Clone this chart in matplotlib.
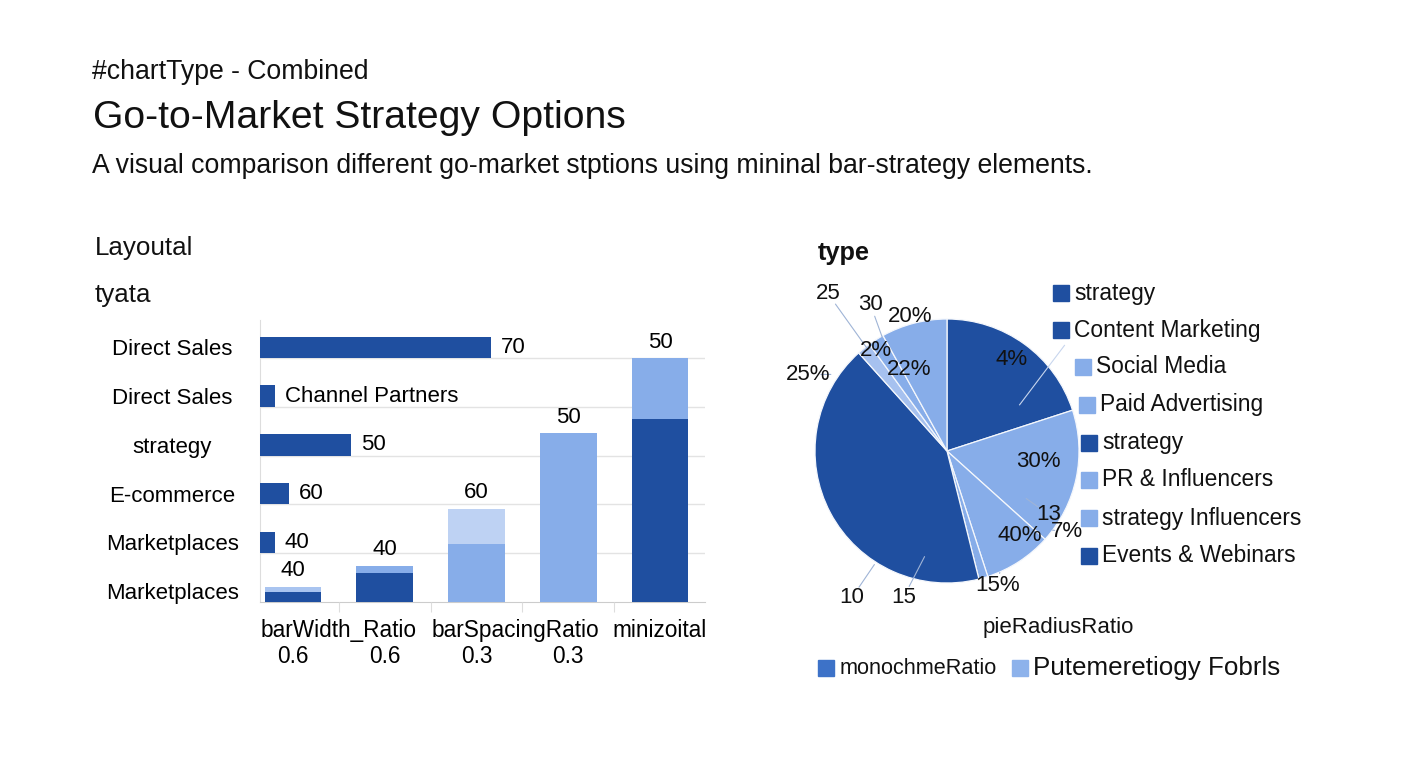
import matplotlib
matplotlib.use("Agg")
import matplotlib.pyplot as plt
from matplotlib.patches import Rectangle

plt.rcParams['font.family'] = ['Liberation Sans', 'DejaVu Sans']

W, H = 1408, 768

# --- data -------------------------------------------------------------
hbar_labels = ["Direct Sales", "Direct Sales", "strategy", "E-commerce", "Marketplaces", "Marketplaces"]
hbar_values = [70, 4.5, 27.6, 8.8, 4.5, 0]
hbar_texts = ["70", "Channel Partners", "50", "60", "40", ""]

vbar_bottom = [3.5, 10.3, 20.6, 59.9, 64.9]
vbar_top = [1.8, 2.5, 12.4, 0, 21.6]
vbar_texts = ["40", "40", "60", "50", "50"]
vbar_sub = ["0.6", "0.6", "0.3", "0.3", ""]
vbar_groups = ["barWidth_Ratio", "barSpacingRatio", "minizoital"]

pie_values = [72, 60, 30, 4, 152, 6, 7, 29]
pie_texts = ["4%", "30%", "40%", "13", "7%", "15%", "10", "15", "25%", "25", "30", "20%", "2%", "22%"]

legend_labels = ["strategy", "Content Marketing", "Social Media", "Paid Advertising",
                 "strategy", "PR & Influencers", "strategy Influencers", "Events & Webinars"]
legend_kinds = ["dark", "dark", "light", "light", "dark", "light", "light", "dark"]

bottom_legend = ["monochmeRatio", "Putemeretiogy Fobrls"]

# --- colours ----------------------------------------------------------
DARK = "#1f4fa0"
LIGHT = "#87ade9"
PALE = "#bed2f3"
MID = "#3d72c8"
pal = {"dark": DARK, "light": LIGHT}


def fx(x):
    return x / W


def fy(y):
    return 1 - y / H


fig = plt.figure(figsize=(W / 100, H / 100), dpi=100)
fig.patch.set_facecolor("white")

# headings
fig.text(fx(92), fy(72), "#chartType - Combined", fontsize=19.2, va="center", color="#111111")
fig.text(fx(93), fy(118), "Go-to-Market Strategy Options", fontsize=28.2, va="center", color="#111111")
fig.text(fx(92), fy(166), "A visual comparison different go-market stptions using mininal bar-strategy elements.",
         fontsize=19.2, va="center", color="#111111")
fig.text(fx(95), fy(248), "Layoutal", fontsize=18.7, va="center", color="#111111")
fig.text(fx(95), fy(295), "tyata", fontsize=18.7, va="center", color="#111111")
fig.text(fx(818), fy(253), "type", fontsize=18.3, va="center", weight="bold", color="#111111")

# --- left: horizontal bars (under) -----------------------------------
rect = [fx(260), fy(602), (705 - 260) / W, (602 - 320) / H]
ax_h = fig.add_axes(rect)
rows = list(range(len(hbar_labels) - 1, -1, -1))
ax_h.barh(rows, hbar_values, height=0.44, align="edge", color=DARK, zorder=3)
ax_h.set_xlim(0, 134.8)
ax_h.set_ylim(0, 5.78)
ax_h.set_yticks([r + 0.22 for r in rows], hbar_labels, fontsize=16)
for lab in ax_h.get_yticklabels():
    lab.set_ha("center")
ax_h.tick_params(axis="y", length=0, pad=63)
ax_h.set_xticks([])
for r in range(1, 6):
    ax_h.axhline(r, color="#e3e3e3", lw=1, zorder=1)
for s in ["top", "right"]:
    ax_h.spines[s].set_visible(False)
ax_h.spines["left"].set_color("#dddddd")
ax_h.spines["bottom"].set_color("#cccccc")
for r, v, t in zip(rows, hbar_values, hbar_texts):
    if t:
        ax_h.annotate(t, (v, r + 0.22), xytext=(7, 0), textcoords="offset points",
                      va="center", ha="left", fontsize=16)

# --- left: vertical stacked bars (over) ------------------------------
ax_v = fig.add_axes(rect)
ax_v.patch.set_alpha(0)
xs = list(range(len(vbar_bottom)))
bottom_cols = [DARK, DARK, LIGHT, LIGHT, DARK]
top_cols = ["#a9c4f0", LIGHT, PALE, LIGHT, LIGHT]
ax_v.bar(xs, vbar_bottom, width=0.62, color=bottom_cols, zorder=3)
ax_v.bar(xs, vbar_top, width=0.62, bottom=vbar_bottom, color=top_cols, zorder=3)
ax_v.set_xlim(-0.36, 4.49)
ax_v.set_ylim(0, 100)
ax_v.set_yticks([])
ax_v.set_xticks([0.5, 1.5, 2.5, 3.5], [])
ax_v.tick_params(axis="x", length=7, color="#dddddd")
for s in ax_v.spines.values():
    s.set_visible(False)
for x, b, t, txt in zip(xs, vbar_bottom, vbar_top, vbar_texts):
    ax_v.annotate(txt, (x, b + t), xytext=(0, 4), textcoords="offset points",
                  ha="center", va="bottom", fontsize=16)
tr = ax_v.get_xaxis_transform()
for x, txt in zip([0.5, 2.42, 4.0], vbar_groups):
    ax_v.text(x, -0.1, txt, transform=tr, ha="center", va="center", fontsize=16.3)
for x, txt in zip(xs, vbar_sub):
    if txt:
        ax_v.text(x, -0.195, txt, transform=tr, ha="center", va="center", fontsize=16.3)

# --- right: pie -------------------------------------------------------
R = 132
ax_p = fig.add_axes([fx(947 - R), fy(451 + R), 2 * R / W, 2 * R / H])
pie_cols = [DARK, LIGHT, LIGHT, LIGHT, DARK, "#a6c1ef", LIGHT, LIGHT]
ax_p.pie(pie_values, colors=pie_cols, startangle=90, counterclock=False,
         wedgeprops=dict(edgecolor="#f4f7fc", linewidth=0.9))
ax_p.set_xlim(-1, 1)
ax_p.set_ylim(-1, 1)

pie_pos = [(0.49, 0.69), (0.69, -0.08), (0.55, -0.64), (0.77, -0.48), (0.91, -0.61),
           (0.38, -1.02), (-0.72, -1.11), (-0.33, -1.11), (-1.05, 0.58), (-0.90, 1.19),
           (-0.58, 1.11), (-0.28, 1.02), (-0.54, 0.76), (-0.29, 0.62)]
pie_anchor = [None, None, None, (0.60, -0.36), (0.80, -0.60), (0.40, -0.92),
              (-0.55, -0.86), (-0.17, -0.80), (-0.88, 0.58), (-0.60, 0.77),
              (-0.49, 0.86), None, None, None]
for txt, pos, anc in zip(pie_texts, pie_pos, pie_anchor):
    if anc is not None:
        ax_p.annotate("", xy=anc, xytext=pos,
                      arrowprops=dict(arrowstyle="-", color="#9fb4d6", lw=0.8,
                                      shrinkA=9, shrinkB=0))
    ax_p.text(pos[0], pos[1], txt, ha="center", va="center", fontsize=16, color="#111111")
ax_p.plot([0.89, 0.55], [0.80, 0.35], color="#c8d6ee", lw=0.8)

# legend beside pie
leg_sq = [1053, 1053, 1075, 1079, 1081, 1081, 1081, 1081]
leg_y = [293, 330, 367, 405, 443, 480, 518, 556]
for sx, sy, lab, kind in zip(leg_sq, leg_y, legend_labels, legend_kinds):
    fig.patches.append(Rectangle((fx(sx), fy(sy + 8)), 16 / W, 16 / H,
                                 transform=fig.transFigure, color=pal[kind]))
    fig.text(fx(sx + 21), fy(sy), lab, fontsize=16.4, va="center", color="#111111")

fig.text(fx(1058), fy(628), "pieRadiusRatio", fontsize=16, ha="center", va="center", color="#111111")
fig.patches.append(Rectangle((fx(818), fy(676)), 16 / W, 16 / H,
                             transform=fig.transFigure, color=MID))
fig.text(fx(840), fy(668), bottom_legend[0], fontsize=15.6, va="center", color="#111111")
fig.patches.append(Rectangle((fx(1012), fy(676)), 16 / W, 16 / H,
                             transform=fig.transFigure, color="#8db2eb"))
fig.text(fx(1033), fy(668), bottom_legend[1], fontsize=18.7, va="center", color="#111111")

fig.savefig("out.png", dpi=100)
